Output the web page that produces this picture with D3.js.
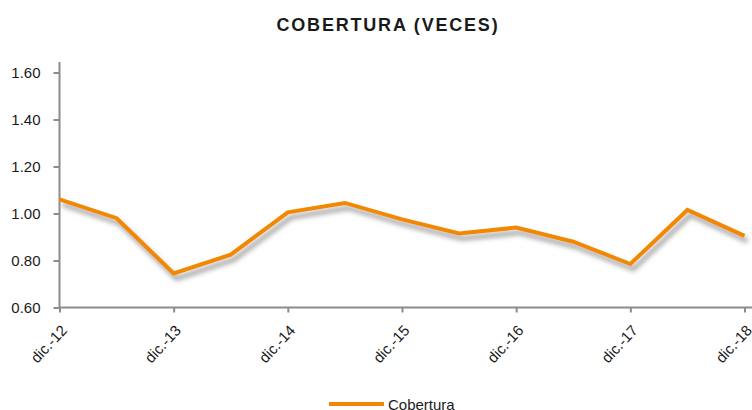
<!DOCTYPE html>
<html>
<head>
    <meta charset="utf-8">
    <script src="https://d3js.org/d3.v7.min.js"></script>
    <style>
        body { margin: 0; background: white; }
        text { font-family: "Liberation Sans", Arial, sans-serif; fill: #1a1a1a; }
        .title { font-size: 18px; font-weight: bold; letter-spacing: 1.8px; }
        .axis path, .axis line { stroke: #8c8c8c; stroke-width: 2px; }
        .axis text { font-size: 15px; fill: #1a1a1a; }
    </style>
</head>
<body>
    <script>
        // periods (every half year), only the december ones get a label
        var periodos = ["dic.-12", "jun.-13", "dic.-13", "jun.-14", "dic.-14", "jun.-15", "dic.-15",
                        "jun.-16", "dic.-16", "jun.-17", "dic.-17", "jun.-18", "dic.-18"];
        var cobertura = [1.06, 0.98, 0.745, 0.825, 1.005, 1.045, 0.975, 0.915, 0.94, 0.88, 0.785, 1.015, 0.905];
        var etiquetas = ["dic.-12", "dic.-13", "dic.-14", "dic.-15", "dic.-16", "dic.-17", "dic.-18"];
        var yTicks = [0.6, 0.8, 1.0, 1.2, 1.4, 1.6];

        var W = 752, H = 410;
        var svg = d3.select("body").append("svg").attr("width", W).attr("height", H);

        // grey shadow under the line
        var defs = svg.append("defs");
        var f = defs.append("filter").attr("id", "sombra")
            .attr("x", "-10%").attr("y", "-20%").attr("width", "120%").attr("height", "160%");
        f.append("feDropShadow").attr("dx", 3).attr("dy", 5).attr("stdDeviation", 2.5)
            .attr("flood-color", "#6e6e6e").attr("flood-opacity", 0.7);

        var x = d3.scalePoint().domain(periodos).range([59.5, 744.5]);
        var y = d3.scaleLinear().domain([0.6, 1.6]).range([307.5, 72.5]);

        svg.append("text").attr("class", "title")
            .attr("x", 388).attr("y", 31).attr("text-anchor", "middle")
            .text("COBERTURA (VECES)");

        // y axis
        var yAxis = svg.append("g").attr("class", "axis")
            .attr("transform", "translate(59.5,0)")
            .call(d3.axisLeft(y).tickValues(yTicks).tickFormat(d3.format(".2f")).tickSize(6).tickPadding(13));
        yAxis.select(".domain").attr("d", "M0,62V308");
        yAxis.selectAll("text").attr("dy", "0.36em");

        // x axis
        var xAxis = svg.append("g").attr("class", "axis")
            .attr("transform", "translate(0,307.5)")
            .call(d3.axisBottom(x).tickValues(etiquetas).tickSize(5).tickSizeOuter(0));
        xAxis.select(".domain").attr("d", "M59.5,0H752");
        xAxis.selectAll("text")
            .attr("text-anchor", "end")
            .attr("x", 0).attr("y", 0).attr("dy", "0.35em")
            .attr("transform", "translate(4,20) rotate(-47)");

        // line
        var linea = d3.line()
            .x(function (d, i) { return x(periodos[i]); })
            .y(function (d) { return y(d); });

        svg.append("path").datum(cobertura)
            .attr("d", linea)
            .attr("fill", "none")
            .attr("stroke", "#F28705")
            .attr("stroke-width", 4)
            .attr("stroke-linejoin", "miter")
            .attr("filter", "url(#sombra)");

        // legend
        var leg = svg.append("g");
        leg.append("line").attr("x1", 329).attr("x2", 384).attr("y1", 404).attr("y2", 404)
            .attr("stroke", "#F28705").attr("stroke-width", 4);
        leg.append("text").attr("x", 388).attr("y", 409.5).style("font-size", "15px").text("Cobertura");
    </script>
</body>
</html>
